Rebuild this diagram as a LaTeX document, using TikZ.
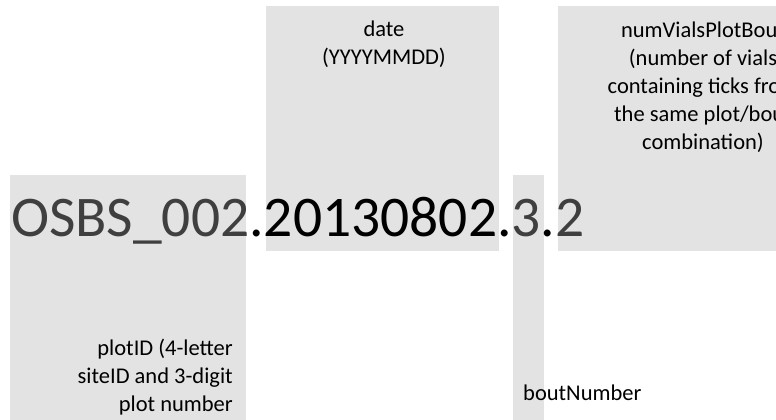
\documentclass[tikz,border=0pt]{standalone}
\usepackage{fontspec}
\setmainfont{Carlito}
\definecolor{boxgray}{HTML}{E3E3E3}
\definecolor{idgray}{HTML}{3F3F3F}
\begin{document}
\begin{tikzpicture}[x=1pt,y=-1pt,
  part/.style={fill=boxgray,draw=none},
  lbl/.style={inner sep=0pt,font=\fontsize{22.5}{28}\selectfont,text=black},
  big/.style={inner sep=0pt,font=\fontsize{57.5}{60}\selectfont,text=black}]
\useasboundingbox (0,0) rectangle (776,420);
\fill[white] (0,0) rectangle (776,420);
% field boxes
\path[part] (10,175) rectangle (246,421) coordinate (p1);
\path[part] (266,6) rectangle (499,251) coordinate (p2);
\path[part] (513,175) rectangle (544,421) coordinate (p3);
\path[part] (558,6) rectangle (820,251) coordinate (p4);
% identifier
\node[big,anchor=base west] (id) at (11,236)
  {{\color{idgray}OSBS\_002}.20130802.{\color{idgray}3}.{\color{idgray}2}};
% labels (base anchor = baseline of the last line)
\node[lbl,align=center,anchor=base] (date) at (384,64) {date\\(YYYYMMDD)};
\node[lbl,align=center,anchor=base] (vials) at (703,149)
  {numVialsPlotBout\\(number of vials\\containing ticks from\\the same plot/bout\\combination)};
\node[lbl,align=right,anchor=base east] (plot) at (233,411)
  {plotID (4-letter\\siteID and 3-digit\\plot number};
\node[lbl,anchor=base west] (bout) at (523,400) {boutNumber};
\end{tikzpicture}
\end{document}
